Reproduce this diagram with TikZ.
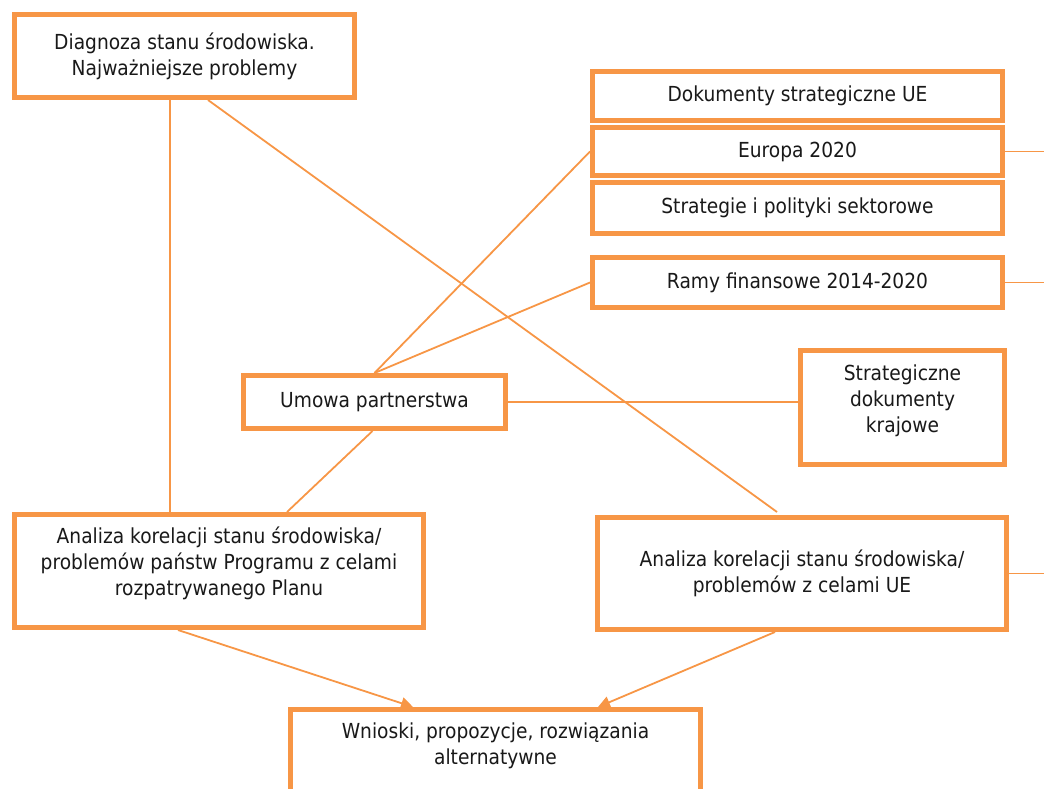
\documentclass[tikz,border=0pt]{standalone}
\usepackage{fontspec}
\setmainfont{DejaVu Sans}[FakeStretch=0.9]
\usetikzlibrary{arrows.meta,calc}
\definecolor{org}{HTML}{F79646}
\begin{document}
\begin{tikzpicture}[x=1pt,y=-1pt,
  box/.style={draw=org,line width=5pt,fill=white,rectangle,inner sep=0pt,align=center,
    font=\fontsize{20.7}{26}\selectfont,text=black!90},
  txt/.style={inner sep=0pt,align=center,font=\fontsize{20.7}{26}\selectfont,text=black!90},
  conn/.style={draw=org,line width=1.8pt},
  arr/.style={conn,-{Triangle[length=12pt,width=12pt]}}]
\useasboundingbox (0,0) rectangle (1044,789);
\clip (0,0) rectangle (1044,789);
% boxes
\node[box,minimum width=340pt,minimum height=83pt] (diag) at (184.5,56) {Diagnoza stanu środowiska.\\Najważniejsze problemy};
\node[box,minimum width=410pt,minimum height=49pt] (dok) at (797.5,96) {Dokumenty strategiczne UE};
\node[box,minimum width=410pt,minimum height=48pt] (eur) at (797.5,151.5) {Europa 2020};
\node[box,minimum width=410pt,minimum height=51pt] (str) at (797.5,208) {Strategie i polityki sektorowe};
\node[box,minimum width=410pt,minimum height=50pt] (ramy) at (797.5,282.5) {Ramy finansowe 2014-2020};
\node[box,minimum width=262pt,minimum height=53pt] (umowa) at (374.5,402) {Umowa partnerstwa};
\node[box,minimum width=204pt,minimum height=114pt] (sdk) at (902.5,407.5) {};
\node[txt] (sdkt) at (902.5,401) {Strategiczne\\dokumenty\\krajowe};
\node[box,minimum width=409pt,minimum height=113pt] (anl) at (219,571) {};
\node[txt] (anlt) at (219,563) {Analiza korelacji stanu środowiska/\\problemów państw Programu z celami\\rozpatrywanego Planu};
\node[box,minimum width=409pt,minimum height=112pt] (anr) at (802,573.5) {Analiza korelacji stanu środowiska/\\problemów z celami UE};
\node[box,minimum width=410pt,minimum height=200pt] (wn) at (495.5,809.5) {};
\node[txt] (wnt) at (495.5,746) {Wnioski, propozycje, rozwiązania\\alternatywne};
% edge coordinates
\coordinate (vx) at (170,0);
\coordinate (re) at (1050,0);
% connectors
\draw[conn] (diag.south -| vx) -- (anl.north -| vx);
\draw[conn] ($(diag.south)+(23.5,0)$) -- ($(anr.north)+(-25,-3)$);
\draw[conn] (umowa.north) -- (eur.west);
\draw[conn] (umowa.north) -- (ramy.west);
\draw[conn] (umowa.east) -- (umowa.east -| sdk.west);
\draw[conn] ($(umowa.south)+(-2,0)$) -- ($(anl.north)+(68,0)$);
\draw[conn] (eur.east) -- (eur.east -| re);
\draw[conn] (ramy.east) -- (ramy.east -| re);
\draw[conn] (anr.east) -- (anr.east -| re);
\draw[arr] ($(anl.south)+(-41,0)$) -- ($(wn.north)+(-82.5,0)$);
\draw[arr] ($(anr.south)+(-27,0)$) -- ($(wn.north)+(102.5,0)$);
\end{tikzpicture}
\end{document}
